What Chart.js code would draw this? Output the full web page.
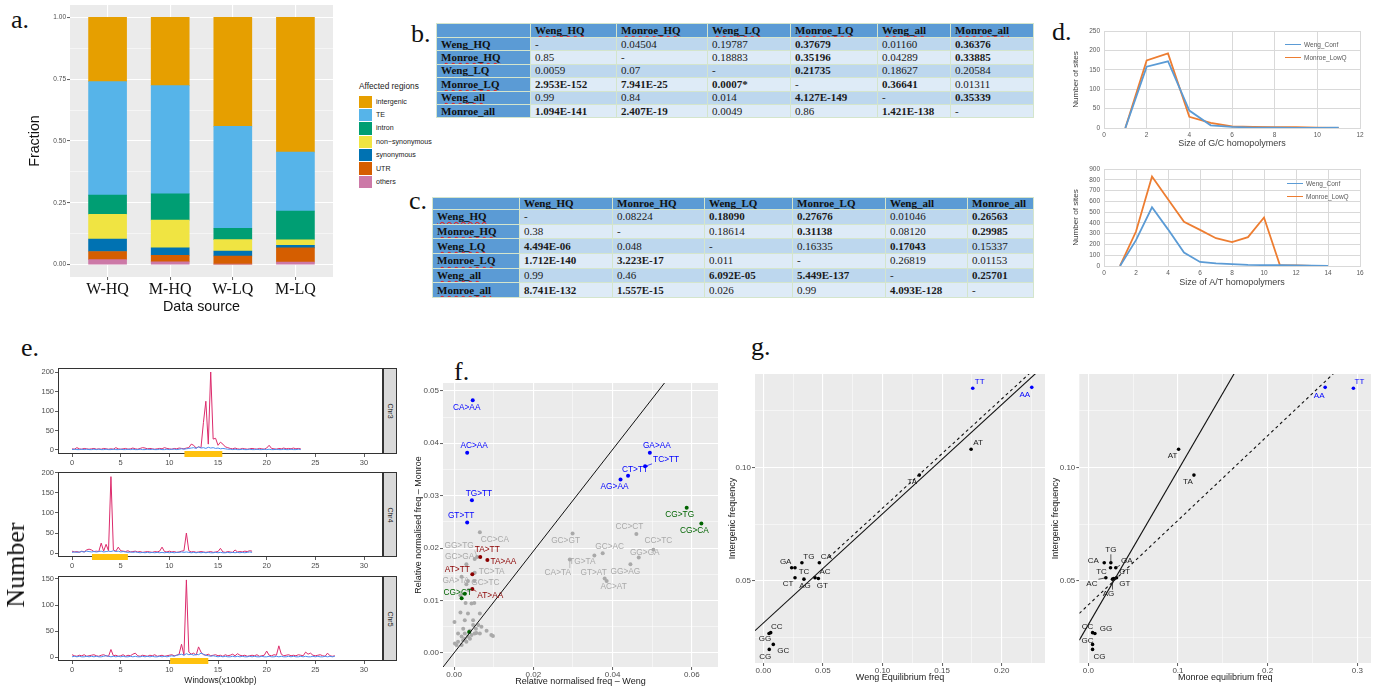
<!DOCTYPE html>
<html>
<head>
<meta charset="utf-8">
<title>Mutation figure</title>
<script src="https://cdn.jsdelivr.net/npm/chart.js@4.4.1/dist/chart.umd.min.js"></script>
<style>
  html, body { margin: 0; padding: 0; background: #fff; }
  body { position: relative; width: 1375px; height: 688px; overflow: hidden; font-family: "Liberation Sans", Arial, sans-serif; }
  canvas { position: absolute; }
  .tag { position: absolute; font-family: "Liberation Serif", "Times New Roman", serif; font-size: 26px; line-height: 1; color: #111; }
  .leg { position: absolute; white-space: nowrap; }
  table.pv { position: absolute; border-collapse: collapse; table-layout: fixed; font-family: "Liberation Serif", "Times New Roman", serif; font-size: 11px; line-height: 11px; color: #1a1a1a; }
  table.pv td { border: 1px solid #d4e5cc; padding: 0 0 0 4px; white-space: nowrap; overflow: hidden; vertical-align: middle; }
  table.pv tr.r0 td { background: #bdd7ee; }
  table.pv tr.r1 td { background: #deebf7; }
  table.pv tr td.hd { background: #5b9bd5; font-weight: bold; color: #111; }
  .sq { text-decoration: underline wavy #e0242a; text-decoration-skip-ink: none; text-underline-offset: 1px; }
  .strip { position: absolute; background: #d9d9d9; border: 1px solid #333; box-sizing: border-box; }
  .strip span { position: absolute; left: 50%; top: 50%; transform: translate(-50%, -50%) rotate(90deg); font-size: 7px; color: #1a1a1a; }
</style>
</head>
<body>
<script>
// ---------- a. affected regions ----------
const sources = ['W-HQ', 'M-HQ', 'W-LQ', 'M-LQ'];
const regionNames = ['intergenic', 'TE', 'intron', 'non\u2212synonymous', 'synonymous', 'UTR', 'others'];
const regionColors = ['#E69F00', '#56B4E9', '#009E73', '#F0E442', '#0072B2', '#D55E00', '#CC79A7'];
const fracIntergenic = [0.260, 0.276, 0.441, 0.545];
const fracTE = [0.459, 0.438, 0.412, 0.238];
const fracIntron = [0.078, 0.106, 0.046, 0.117];
const fracNonSyn = [0.100, 0.112, 0.046, 0.022];
const fracSyn = [0.050, 0.030, 0.020, 0.010];
const fracUTR = [0.033, 0.027, 0.033, 0.058];
const fracOthers = [0.020, 0.011, 0.002, 0.010];
const fracTicks = [0, 0.25, 0.5, 0.75, 1];
const fracMinor = [0.125, 0.375, 0.625, 0.875];

// ---------- b. / c. p-value tables ----------
const pvNames = ['Weng_HQ', 'Monroe_HQ', 'Weng_LQ', 'Monroe_LQ', 'Weng_all', 'Monroe_all'];
const tableB = [
  ['-', '0.04504', '0.19787', '0.37679', '0.01160', '0.36376'],
  ['0.85', '-', '0.18883', '0.35196', '0.04289', '0.33885'],
  ['0.0059', '0.07', '-', '0.21735', '0.18627', '0.20584'],
  ['2.953E-152', '7.941E-25', '0.0007*', '-', '0.36641', '0.01311'],
  ['0.99', '0.84', '0.014', '4.127E-149', '-', '0.35339'],
  ['1.094E-141', '2.407E-19', '0.0049', '0.86', '1.421E-138', '-']
];
const tableBBold = [
  [0, 0, 0, 1, 0, 1], [0, 0, 0, 1, 0, 1], [0, 0, 0, 1, 0, 0],
  [1, 1, 1, 0, 1, 0], [0, 0, 0, 1, 0, 1], [1, 1, 0, 0, 1, 0]
];
const tableC = [
  ['-', '0.08224', '0.18090', '0.27676', '0.01046', '0.26563'],
  ['0.38', '-', '0.18614', '0.31138', '0.08120', '0.29985'],
  ['4.494E-06', '0.048', '-', '0.16335', '0.17043', '0.15337'],
  ['1.712E-140', '3.223E-17', '0.011', '-', '0.26819', '0.01153'],
  ['0.99', '0.46', '6.092E-05', '5.449E-137', '-', '0.25701'],
  ['8.741E-132', '1.557E-15', '0.026', '0.99', '4.093E-128', '-']
];
const tableCBold = [
  [0, 0, 1, 1, 0, 1], [0, 0, 0, 1, 0, 1], [1, 0, 0, 0, 1, 0],
  [1, 1, 0, 0, 0, 0], [0, 0, 1, 1, 0, 1], [1, 1, 0, 0, 1, 0]
];

// ---------- d. homopolymers ----------
const homoNames = ['Weng_Conf', 'Monroe_LowQ'];
const homoColors = ['#5B9BD5', '#ED7D31'];
const gcSizes = [1, 2, 3, 4, 5, 6, 7, 8, 9, 10, 11];
const gcWeng = [0, 158, 172, 45, 7, 3, 1, 1, 0, 0, 1];
const gcMonroe = [0, 174, 192, 29, 13, 4, 3, 2, 2, 1, 0];
const gcXTicks = [0, 2, 4, 6, 8, 10, 12];
const gcYTicks = [0, 50, 100, 150, 200, 250];
const atSizes = [1, 2, 3, 4, 5, 6, 7, 8, 9, 10, 11, 12, 13, 14];
const atWeng = [0, 240, 545, 340, 125, 38, 25, 18, 10, 8, 8, 5, 3, 2];
const atMonroe = [0, 320, 830, 620, 410, 335, 258, 222, 268, 450, 5, 5, 2, 2];
const atXTicks = [0, 2, 4, 6, 8, 10, 12, 14, 16];
const atYTicks = [0, 100, 200, 300, 400, 500, 600, 700, 800, 900];

// ---------- e. windows along chromosomes (step 0.25) ----------
const windowStep = 0.25;
const chromNames = ['Chr3', 'Chr4', 'Chr5'];
const chr3Red = [3,2,6,3,2,4,3,2,3,4, 2,3,2,4,3,2,3,2,6,3, 2,3,4,2,3,5,3,2,4,6, 5,3,4,3,2,3,4,3,6,4,
  3,2,4,3,5,4,3,5,6,15, 12,5,8,6,70,125,15,200,28,30, 12,20,15,8,6,4,3,5,3,2, 4,3,2,3,4,3,2,4,3,2,
  5,12,4,3,2,4,3,5,3,4, 3,5,3,4,3];
const chr3Blue = [1,2,1,1,2,1,2,1,1,2, 1,2,1,1,2,1,1,2,1,1, 2,1,1,2,1,2,1,1,2,1, 1,2,1,2,1,1,2,1,1,2,
  1,2,2,1,2,3,2,3,4,5, 6,4,8,5,6,4,7,5,6,4, 5,3,4,3,2,2,1,2,1,1, 2,1,1,2,1,1,2,1,1,2,
  1,2,1,1,2,1,1,2,1,1, 2,1,1,2,1];
const chr4Red = [5,3,4,2,5,3,8,10,8,4, 5,4,25,5,22,6,190,8,5,15, 6,5,4,6,3,4,5,3,4,2, 3,4,3,2,4,3,5,15,4,3,
  5,3,4,2,3,5,6,50,6,3, 4,2,3,4,3,2,3,4,2,3, 4,12,3,2,4,3,2,8,3,4, 3,5,4,6,5];
const chr4Blue = [2,3,2,3,4,3,5,4,3,4, 3,4,5,3,4,5,4,6,4,5, 3,4,3,2,3,2,3,2,1,2, 1,2,1,2,1,2,1,2,1,2,
  1,2,1,2,2,3,2,3,2,1, 2,1,2,1,2,1,2,1,1,2, 1,2,1,1,2,1,2,1,2,1, 2,1,2,3,2];
const chr5Red = [5,3,2,4,3,5,2,3,4,5, 3,2,4,5,3,2,15,3,4,2, 3,5,2,4,3,6,8,3,2,4, 3,2,4,3,5,2,3,4,2,3,
  4,5,3,4,6,25,4,148,10,6, 8,4,20,10,5,4,6,3,4,5, 3,4,2,5,3,4,6,3,7,4, 3,4,2,3,4,3,5,2,3,4,
  12,4,3,5,4,22,6,3,4,5, 3,4,3,5,4,3,10,6,8,4, 3,4,5,3,2,8,3,2,3];
const chr5Blue = [1,2,1,2,1,1,2,1,2,1, 2,1,1,2,3,2,1,2,1,2, 1,2,1,1,2,1,2,1,1,2, 1,2,1,2,1,1,2,1,2,1,
  2,3,2,4,5,6,4,7,5,6, 4,6,5,8,6,4,3,2,3,2, 1,2,1,2,1,1,2,1,2,1, 2,1,1,2,1,2,1,1,2,1,
  1,2,1,1,2,1,2,1,1,2, 1,2,1,1,2,1,2,1,1,2, 1,2,1,1,2,1,2,1,2];
const centromeres = [[11.55, 15.44], [2.05, 5.74], [10.08, 14.0]];
const windowTicks = [0, 5, 10, 15, 20, 25, 30];
const chromYTicks = [[0, 50, 100, 150, 200], [0, 50, 100, 150, 200], [0, 50, 100, 150]];

// ---------- f. relative normalised frequencies ----------
const fBlueLabels = ['CA>AA', 'AC>AA', 'TG>TT', 'GT>TT', 'GA>AA', 'TC>TT', 'CT>TT', 'AG>AA'];
const fBlueWeng = [0.0047, 0.0033, 0.0045, 0.0033, 0.0494, 0.0482, 0.0439, 0.0420];
const fBlueMonroe = [0.0482, 0.0382, 0.0291, 0.0249, 0.0382, 0.0356, 0.0338, 0.0331];
const fRedLabels = ['TA>TT', 'TA>AA', 'AT>TT', 'AT>AA'];
const fRedWeng = [0.0066, 0.0084, 0.0046, 0.0046];
const fRedMonroe = [0.0183, 0.0177, 0.0150, 0.0122];
const fGreenLabels = ['CG>TG', 'CG>CA', 'CG>CT', '', ''];
const fGreenWeng = [0.0587, 0.0624, 0.0027, 0.0019, 0.0038];
const fGreenMonroe = [0.0277, 0.0247, 0.0113, 0.0104, 0.0040];
const fGrayLabels = ['CC>CA', 'GG>TG', 'GC>GA', 'TC>TA', 'GA>TA', 'GC>TC', 'GC>GT', 'CC>CT',
  'CC>TC', 'GC>AC', 'GG>GA', 'TG>TA', 'CA>TA', 'GG>AG', 'GT>AT', 'AC>AT'];
const fGrayWeng = [0.0065, 0.0058, 0.0052, 0.0052, 0.0035, 0.0031, 0.0299, 0.0460,
  0.0503, 0.0375, 0.0466, 0.0354, 0.0292, 0.0445, 0.0380, 0.0385];
const fGrayMonroe = [0.0230, 0.0183, 0.0179, 0.0153, 0.0137, 0.0131, 0.0228, 0.0227,
  0.0197, 0.0190, 0.0182, 0.0186, 0.0178, 0.0169, 0.0142, 0.0137];
const fOtherWeng = [0.0031, 0.0019, 0.0051, 0.0037, 0.0016, 0.0029, 0.0044, 0.0051, 0.0016, 0.0035,
  0.0065, 0.0001, 0.0027, 0.0048, 0.0061, 0.0023, 0.0040, 0.0055, 0.0069, 0.0010, 0.0019, 0.0027,
  0.0035, 0.0044, 0.0056, 0.0082, 0.0094, 0.0098, 0.0065, 0.0002, 0.0010, 0.0023, 0.0031, 0.0040,
  0.0052, 0.0006, 0.0019, 0.0027, 0.0048];
const fOtherMonroe = [0.0169, 0.0145, 0.0137, 0.0120, 0.0110, 0.0095, 0.0094, 0.0095, 0.0077, 0.0075,
  0.0075, 0.0059, 0.0062, 0.0062, 0.0053, 0.0046, 0.0042, 0.0046, 0.0050, 0.0037, 0.0031, 0.0027,
  0.0031, 0.0034, 0.0038, 0.0042, 0.0034, 0.0032, 0.0037, 0.0018, 0.0021, 0.0024, 0.0021, 0.0027,
  0.0037, 0.0015, 0.0015, 0.0037, 0.0053];
const fDiagonal = [0, 0.97]; // intercept, slope
const fXTicks = [0, 0.02, 0.04, 0.06];
const fXMinor = [0.01, 0.03, 0.05];
const fYTicks = [0, 0.01, 0.02, 0.03, 0.04, 0.05];
const fYMinor = [0.005, 0.015, 0.025, 0.035, 0.045];

// ---------- g. equilibrium vs intergenic ----------
const dinucs = ['AA', 'AC', 'AG', 'AT', 'CA', 'CC', 'CG', 'CT', 'GA', 'GC', 'GG', 'GT', 'TA', 'TC', 'TG', 'TT'];
const intergenicFreq = [0.1353, 0.0513, 0.0507, 0.1080, 0.0579, 0.0271, 0.0197, 0.0513,
  0.0557, 0.0219, 0.0267, 0.0510, 0.0966, 0.0557, 0.0579, 0.1349];
const wengEq = [0.2252, 0.0434, 0.0341, 0.1743, 0.0470, 0.0062, 0.0050, 0.0266,
  0.0238, 0.0084, 0.0048, 0.0462, 0.1309, 0.0266, 0.0324, 0.1757];
const monroeEq = [0.2641, 0.0196, 0.0270, 0.1007, 0.0178, 0.0048, 0.0048, 0.0315,
  0.0307, 0.0048, 0.0074, 0.0285, 0.1178, 0.0248, 0.0252, 0.2956];
const gHighlight = ['AA', 'TT'];
const wengSolid = [0.0313, 0.482];
const wengDashed = [0.0338, 0.482];
const wengDashedFrom = 0.055;
const monroeSolid = [0.0306, 0.681];
const monroeDashed = [0.0393, 0.3734];
const gYTicks = [0.05, 0.10];
const gYMinor = [0.025, 0.075, 0.125];
const gWengXTicks = [0, 0.05, 0.10, 0.15, 0.20];
const gWengXMinor = [0.025, 0.075, 0.125, 0.175, 0.225];
const gMonroeXTicks = [0, 0.1, 0.2, 0.3];
const gMonroeXMinor = [0.05, 0.15, 0.25];

// label offsets (px) for the point labels, third entry = draw a leader segment
const fBlueOffsets = [[-6, 7], [7, -7], [7, -7], [-6, -7], [7, -7], [21, -7, 1], [7, -6], [-6, 7]];
const fRedOffsets = [[7, -7], [16, 2], [-15, -5], [18, 7, 1]];
const fGreenOffsets = [[-7, 7], [-7, 7], [-7, -1], [0, 0], [0, 0]];
const fGrayOffsets = [[15, 7], [-18, -11, 1], [-15, -2], [17, -1], [-12, 0], [19, -1], [-7, 7], [-7, -7],
  [5, -9], [7, -7], [6, -5], [-12, 6], [-12, 13, 1], [-5, 7], [-11, -6], [7, 6]];
const gWengOffsets = [[-7, 7], [10, -6], [1, 7], [7, -6], [7, -6], [6, -6], [-4, 7], [-7, 6],
  [-6, -6], [10, 6], [-4, 5], [4, 7], [-7, 7], [9, 4], [7, -6], [7, -6]];
const gMonroeOffsets = [[-6, 8], [-14, 6, 1], [-4, 15, 1], [-6, 7], [-11, -2], [-5, -6], [7, 7], [8, -6],
  [11, -7, 1], [-5, -4], [11, -5], [11, 5], [-6, 7], [-9, 4], [0, -13, 1], [6, -6]];

// ================= helpers =================
Chart.defaults.animation = false;
Chart.defaults.responsive = false;
Chart.defaults.maintainAspectRatio = false;
Chart.defaults.events = [];
Chart.defaults.font.family = '"Liberation Sans", Arial, sans-serif';
Chart.defaults.color = '#4d4d4d';
Chart.defaults.plugins.legend.display = false;
Chart.defaults.plugins.tooltip.enabled = false;

const SERIF = '"Liberation Serif", "Times New Roman", serif';

function canvasAt(left, top, w, h) {
  const c = document.createElement('canvas');
  c.width = w; c.height = h;
  c.style.left = left + 'px'; c.style.top = top + 'px';
  c.style.width = w + 'px'; c.style.height = h + 'px';
  document.body.appendChild(c);
  return c;
}

function addDiv(cls, left, top, html, style) {
  const d = document.createElement('div');
  d.className = cls;
  d.style.left = left + 'px'; d.style.top = top + 'px';
  if (style) Object.assign(d.style, style);
  d.innerHTML = html;
  document.body.appendChild(d);
  return d;
}

function merge(base, extra) {
  for (const k in extra) {
    const v = extra[k];
    if (v && typeof v === 'object' && !Array.isArray(v) && base[k] && typeof base[k] === 'object') merge(base[k], v);
    else base[k] = v;
  }
  return base;
}

// fixed axis size so the plot area lands where it should
function fixed(size) {
  return function (s) {
    if (s.isHorizontal()) s.height = size; else s.width = size;
    s.paddingLeft = s.paddingRight = s.paddingTop = s.paddingBottom = 0;
  };
}

function tickSet(majors, minors) {
  return majors.map(v => ({value: v}))
    .concat((minors || []).map(v => ({value: v, minor: true})))
    .sort((p, q) => p.value - q.value);
}

// ggplot2 grey theme axis
function ggScale(min, max, majors, minors, fmt, size, extra) {
  return merge({
    type: 'linear', min: min, max: max, offset: false,
    afterBuildTicks: ax => { ax.ticks = tickSet(majors, minors); },
    afterFit: fixed(size),
    border: {display: false},
    grid: {
      offset: false,
      color: '#ffffff',
      lineWidth: c => (c.tick && c.tick.minor ? 0.5 : 1.1),
      tickColor: c => (c.tick && c.tick.minor ? 'rgba(0,0,0,0)' : '#333333'),
      tickLength: 3, tickWidth: 0.8
    },
    ticks: {color: '#4d4d4d', font: {size: 8}, padding: 1, autoSkip: false, maxRotation: 0,
      callback: (v, i, t) => (t[i] && t[i].minor ? '' : fmt(v))}
  }, extra || {});
}

function panelPlugin(fill, frame) {
  return {
    id: 'panel',
    beforeDraw(chart) {
      if (!fill) return;
      const a = chart.chartArea, c = chart.ctx;
      c.save(); c.fillStyle = fill;
      c.fillRect(a.left, a.top, a.right - a.left, a.bottom - a.top);
      c.restore();
    },
    afterDraw(chart) {
      if (!frame) return;
      const a = chart.chartArea, c = chart.ctx;
      c.save(); c.strokeStyle = frame; c.lineWidth = 1;
      c.strokeRect(Math.round(a.left) + 0.5, Math.round(a.top) + 0.5,
        Math.round(a.right - a.left) - 1, Math.round(a.bottom - a.top) - 1);
      c.restore();
    }
  };
}

function bandPlugin(range, color) {
  return {
    id: 'band',
    afterDraw(chart) {
      const x = chart.scales.x, a = chart.chartArea, c = chart.ctx;
      const x0 = x.getPixelForValue(range[0]), x1 = x.getPixelForValue(range[1]);
      c.save(); c.fillStyle = color;
      c.fillRect(x0, a.bottom - 3, x1 - x0, 6);
      c.restore();
    }
  };
}

// text labels next to scatter points (ggrepel look)
const pointText = {
  id: 'pointText',
  afterDatasetsDraw(chart) {
    const c = chart.ctx;
    chart.data.datasets.forEach((ds, k) => {
      if (!ds.pointText) return;
      const meta = chart.getDatasetMeta(k);
      c.save();
      c.font = ds.textFont;
      c.fillStyle = ds.textColor; c.strokeStyle = ds.textColor; c.lineWidth = 0.7;
      c.textAlign = 'center'; c.textBaseline = 'middle';
      meta.data.forEach((el, i) => {
        const t = ds.pointText[i];
        if (!t) return;
        const off = ds.textOffset[i];
        const lx = el.x + off[0], ly = el.y + off[1];
        if (off[2]) {
          const w = c.measureText(t).width / 2 + 1, h = 4.5;
          const ex = Math.min(Math.max(el.x, lx - w), lx + w);
          const ey = Math.min(Math.max(el.y, ly - h), ly + h);
          c.beginPath(); c.moveTo(el.x, el.y); c.lineTo(ex, ey); c.stroke();
        }
        c.fillText(t, lx, ly);
      });
      c.restore();
    });
  }
};
Chart.register(pointText);

function xy(xs, ys) { return xs.map((x, i) => ({x: x, y: ys[i]})); }
function abline(coef, x0, x1) {
  return [{x: x0, y: coef[0] + coef[1] * x0}, {x: x1, y: coef[0] + coef[1] * x1}];
}

// ================= panel tags =================
addDiv('tag', 11, 7, 'a.');
addDiv('tag', 411, 21, 'b.');
addDiv('tag', 409, 188, 'c.');
addDiv('tag', 1052, 19, 'd.');
addDiv('tag', 21, 335, 'e.');
addDiv('tag', 454, 359, 'f.');
addDiv('tag', 751, 334, 'g.');

// ================= a. stacked bars =================
const aStack = [fracIntergenic, fracTE, fracIntron, fracNonSyn, fracSyn, fracUTR, fracOthers];
new Chart(canvasAt(0, 0, 345, 318), {
  type: 'bar',
  data: {
    datasets: regionNames.map((name, k) => ({
      label: name,
      data: aStack[k].map((v, i) => ({x: i + 1, y: v})),
      backgroundColor: regionColors[k],
      borderWidth: 0,
      barThickness: 38
    })).reverse()
  },
  options: {
    layout: {padding: {left: 20, right: 12, top: 5, bottom: 0}},
    scales: {
      x: ggScale(0.4, 4.6, [1, 2, 3, 4], [], v => sources[v - 1], 41, {
        stacked: true,
        ticks: {font: {family: SERIF, size: 16}, color: '#111', padding: 0},
        title: {display: true, text: 'Data source', color: '#111', font: {size: 14.3}, padding: {top: 0, bottom: 2}}
      }),
      y: ggScale(-0.05, 1.05, fracTicks, fracMinor, v => v.toFixed(2), 50, {
        stacked: true,
        ticks: {font: {size: 6.5}},
        title: {display: true, text: 'Fraction', color: '#111', font: {size: 14.3}, padding: {top: 6, bottom: 0}}
      })
    }
  },
  plugins: [panelPlugin('#ebebeb', null)]
});

// legend of a.
(function () {
  let html = '<div style="font-size:8.3px;color:#222;margin-bottom:4px">Affected regions</div>';
  regionNames.forEach((n, k) => {
    html += '<div style="height:13.4px;display:flex;align-items:center">' +
      '<span style="display:inline-block;width:13px;height:12.4px;background:' + regionColors[k] + '"></span>' +
      '<span style="font-size:7.1px;color:#222;margin-left:4px">' + n + '</span></div>';
  });
  addDiv('leg', 359, 81, html);
})();

// ================= b. / c. tables =================
function buildTable(left, top, widths, headH, rowH, rows, bold) {
  const t = document.createElement('table');
  t.className = 'pv';
  t.style.left = left + 'px'; t.style.top = top + 'px';
  t.style.width = widths.reduce((s, w) => s + w, 0) + 'px';
  const cg = document.createElement('colgroup');
  widths.forEach(w => { const col = document.createElement('col'); col.style.width = w + 'px'; cg.appendChild(col); });
  t.appendChild(cg);
  const hr = t.insertRow();
  hr.style.height = headH + 'px';
  [''].concat(pvNames).forEach(h => {
    const td = hr.insertCell(); td.className = 'hd';
    if (h) td.innerHTML = '<span class="sq">' + h + '</span>';
  });
  rows.forEach((r, i) => {
    const tr = t.insertRow();
    tr.style.height = rowH + 'px';
    tr.className = 'r' + (i % 2);
    const lab = tr.insertCell(); lab.className = 'hd';
    lab.innerHTML = '<span class="sq">' + pvNames[i] + '</span>';
    r.forEach((v, j) => {
      const td = tr.insertCell();
      td.textContent = v;
      if (bold[i][j]) td.style.fontWeight = 'bold';
    });
  });
  document.body.appendChild(t);
}
buildTable(436, 23, [94, 86, 91, 83, 87, 73, 83], 14, 13.4, tableB, tableBBold);
buildTable(432, 197, [87, 93, 92, 88, 93, 82, 66], 12, 14.7, tableC, tableCBold);

// ================= d. homopolymer lines =================
function excelScale(min, max, ticks, size, title, titlePad, tickPad, extra) {
  return merge({
    type: 'linear', min: min, max: max,
    afterBuildTicks: ax => { ax.ticks = tickSet(ticks); },
    afterFit: fixed(size),
    grid: {color: '#d9d9d9', lineWidth: 1, drawTicks: false},
    border: {display: false},
    ticks: {color: '#595959', font: {size: 6.5}, padding: tickPad, autoSkip: false, maxRotation: 0},
    title: {display: true, text: title, color: '#404040', font: {size: 9}, padding: titlePad}
  }, extra || {});
}

function homoChart(top, sizes, weng, monroe, xTicks, yTicks, xMax, yMax, xTitle, padTop, xSize, xTitlePad) {
  new Chart(canvasAt(1070, top, 305, 130), {
    type: 'line',
    data: {
      datasets: [weng, monroe].map((s, k) => ({
        label: homoNames[k], data: xy(sizes, s),
        borderColor: homoColors[k], borderWidth: 1.8, pointRadius: 0, tension: 0
      }))
    },
    options: {
      layout: {padding: {left: 0, right: 15, top: padTop, bottom: 0}},
      scales: {
        x: excelScale(0, xMax, xTicks, xSize, xTitle, {top: 0, bottom: xTitlePad}, 3,
          {border: {display: true, color: '#d9d9d9'}}),
        y: excelScale(0, yMax, yTicks, 34, 'Number of sites', {top: 1, bottom: 0}, 4,
          {title: {font: {size: 8.1}}})
      }
    }
  });
}
homoChart(20, gcSizes, gcWeng, gcMonroe, gcXTicks, gcYTicks, 12, 250, 'Size of G/C homopolymers', 11, 22, 1);
homoChart(160, atSizes, atWeng, atMonroe, atXTicks, atYTicks, 16, 900, 'Size of A/T homopolymers', 9, 24, 2);

function homoLegend(left, top) {
  let html = '';
  homoNames.forEach((n, k) => {
    html += '<div style="height:13px;display:flex;align-items:center">' +
      '<span style="display:inline-block;width:16px;height:1.8px;background:' + homoColors[k] + '"></span>' +
      '<span style="font-size:6.5px;color:#595959;margin-left:3px">' + n + '</span></div>';
  });
  addDiv('leg', left, top, html);
}
homoLegend(1285, 38);
homoLegend(1287, 177);

// ================= e. chromosome windows =================
const chromRed = [chr3Red, chr4Red, chr5Red];
const chromBlue = [chr3Blue, chr4Blue, chr5Blue];
const chromPanels = [
  {top: 368, bottom: 454, ymin: -10.3, ymax: 210.3},
  {top: 472, bottom: 557, ymin: -9.5, ymax: 201.5},
  {top: 576, bottom: 661, ymin: -7, ymax: 155.5}
];
chromNames.forEach((name, k) => {
  const p = chromPanels[k];
  const last = k === chromNames.length - 1;
  const xh = last ? 27 : 14;
  const toPts = arr => arr.map((v, i) => ({x: i * windowStep, y: v}));
  new Chart(canvasAt(0, p.top - 6, 383, 6 + (p.bottom - p.top) + xh), {
    type: 'line',
    data: {
      datasets: [
        {label: 'blue', data: toPts(chromBlue[k]), borderColor: '#4a8ef0', borderWidth: 1, pointRadius: 0},
        {label: 'red', data: toPts(chromRed[k]), borderColor: '#dc2b6c', borderWidth: 1, pointRadius: 0}
      ]
    },
    options: {
      layout: {padding: {left: 0, right: 0, top: 6, bottom: 0}},
      scales: {
        x: {
          type: 'linear', min: -1.44, max: 31.95,
          afterBuildTicks: ax => { ax.ticks = tickSet(windowTicks); },
          afterFit: fixed(xh),
          border: {display: false},
          grid: {drawOnChartArea: false, color: '#333', tickLength: 3, lineWidth: 0.8},
          ticks: {color: '#4d4d4d', font: {size: 7.5}, padding: 1, autoSkip: false, maxRotation: 0},
          title: {display: last, text: 'Windows(x100kbp)', color: '#1a1a1a', font: {size: 8.5}, padding: {top: 0, bottom: 2}}
        },
        y: {
          type: 'linear', min: p.ymin, max: p.ymax,
          afterBuildTicks: ax => { ax.ticks = tickSet(chromYTicks[k]); },
          afterFit: fixed(58),
          border: {display: false},
          grid: {drawOnChartArea: false, color: '#333', tickLength: 3, lineWidth: 0.8},
          ticks: {color: '#4d4d4d', font: {size: 7.5}, padding: 1, autoSkip: false}
        }
      }
    },
    plugins: [panelPlugin(null, '#333333'), bandPlugin(centromeres[k], '#ffc20e')]
  });
  addDiv('strip', 383, p.top, '<span>' + name + '</span>', {width: '14px', height: (p.bottom - p.top) + 'px'});
});
addDiv('tag', 2, 565, 'Number', {transform: 'translate(-50%, -50%) rotate(-90deg)', left: '16px', top: '565px', fontSize: '26px', whiteSpace: 'nowrap', position: 'absolute'});

// ================= f. relative normalised freq =================
const fXRange = [-0.0028, 0.0666];
const fYRange = [-0.0027, 0.0515];
function labelSet(label, xs, ys, texts, offsets, pointColor, textColor, radius, font) {
  return {
    label: label, data: xy(xs, ys),
    pointRadius: radius, pointBackgroundColor: pointColor, pointBorderWidth: 0, showLine: false,
    pointText: texts, textOffset: offsets, textColor: textColor, textFont: font
  };
}
const fFont = '8.3px "Liberation Sans", Arial, sans-serif';
new Chart(canvasAt(400, 379, 325, 309), {
  type: 'scatter',
  data: {
    datasets: [
      {label: 'diagonal', data: abline(fDiagonal, fXRange[0], fXRange[1]), showLine: true,
        borderColor: '#111', borderWidth: 1, pointRadius: 0},
      labelSet('blue', fBlueWeng, fBlueMonroe, fBlueLabels, fBlueOffsets, '#0000ff', '#0000ff', 2, fFont),
      labelSet('red', fRedWeng, fRedMonroe, fRedLabels, fRedOffsets, '#8b0000', '#8b0000', 2, fFont),
      labelSet('green', fGreenWeng, fGreenMonroe, fGreenLabels, fGreenOffsets, '#006400', '#006400', 2, fFont),
      labelSet('grey', fGrayWeng, fGrayMonroe, fGrayLabels, fGrayOffsets, '#a9a9a9', '#a9a9a9', 2, fFont),
      {label: 'other', data: xy(fOtherWeng, fOtherMonroe), pointRadius: 2,
        pointBackgroundColor: '#a9a9a9', pointBorderWidth: 0, showLine: false}
    ]
  },
  options: {
    layout: {padding: {left: 0, right: 7, top: 4, bottom: 0}},
    scales: {
      x: ggScale(fXRange[0], fXRange[1], fXTicks, fXMinor, v => v.toFixed(2), 21, {
        ticks: {padding: 0},
        title: {display: true, text: 'Relative normalised freq \u2013 Weng', color: '#1a1a1a', font: {size: 9}, padding: {top: 0, bottom: 1}}
      }),
      y: ggScale(fYRange[0], fYRange[1], fYTicks, fYMinor, v => v.toFixed(2), 43, {
        title: {display: true, text: 'Relative normalised freq \u2013 Monroe', color: '#1a1a1a', font: {size: 9}, padding: {top: 13.6, bottom: 0}}
      })
    }
  },
  plugins: [panelPlugin('#ebebeb', null)]
});

// ================= g. equilibrium frequencies =================
const gFont = '8px "Liberation Sans", Arial, sans-serif';
function gChart(left, width, padLeftAxis, xs, offsets, xRange, xTicks, xMinor, xFmt, solid, dashed, dashedFrom, xTitle, yTitlePad) {
  const hi = dinucs.map(d => gHighlight.includes(d));
  const pick = (arr, want) => arr.filter((_, i) => hi[i] === want);
  new Chart(canvasAt(left, 370, width, 318), {
    type: 'scatter',
    data: {
      datasets: [
        {label: 'solid', data: abline(solid, xRange[0], xRange[1]), showLine: true,
          borderColor: '#111', borderWidth: 1.1, pointRadius: 0},
        {label: 'dashed', data: abline(dashed, dashedFrom, xRange[1]), showLine: true,
          borderColor: '#111', borderWidth: 1.1, borderDash: [3, 3], pointRadius: 0},
        labelSet('high', pick(xs, true), pick(intergenicFreq, true), pick(dinucs, true), pick(offsets, true),
          '#0000ff', '#0000ff', 1.8, gFont),
        labelSet('rest', pick(xs, false), pick(intergenicFreq, false), pick(dinucs, false), pick(offsets, false),
          '#000000', '#1a1a1a', 1.8, gFont)
      ]
    },
    options: {
      layout: {padding: {left: 0, right: width - padLeftAxis.right, top: 4, bottom: 0}},
      scales: {
        x: ggScale(xRange[0], xRange[1], xTicks, xMinor, xFmt, 25, {
          ticks: {padding: 0},
          title: {display: true, text: xTitle, color: '#1a1a1a', font: {size: 9}, padding: {top: 0, bottom: 4.9}}
        }),
        y: ggScale(0.0137, 0.1412, gYTicks, gYMinor, v => v.toFixed(2), padLeftAxis.axis, {
          title: {display: true, text: 'Intergenic frequency', color: '#1a1a1a', font: {size: 9}, padding: {top: yTitlePad, bottom: 0}}
        })
      }
    },
    plugins: [panelPlugin('#ebebeb', null)]
  });
}
gChart(720, 330, {axis: 35, right: 325}, wengEq, gWengOffsets, [-0.00696, 0.2363],
  gWengXTicks, gWengXMinor, v => v.toFixed(2), wengSolid, wengDashed, wengDashedFrom, 'Weng Equilibrium freq', 7.6);
gChart(1040, 335, {axis: 39.3, right: 332}, monroeEq, gMonroeOffsets, [-0.01, 0.3152],
  gMonroeXTicks, gMonroeXMinor, v => v.toFixed(1), monroeSolid, monroeDashed, -0.01, 'Monroe equilibrium freq', 10.6);
</script>
</body>
</html>
